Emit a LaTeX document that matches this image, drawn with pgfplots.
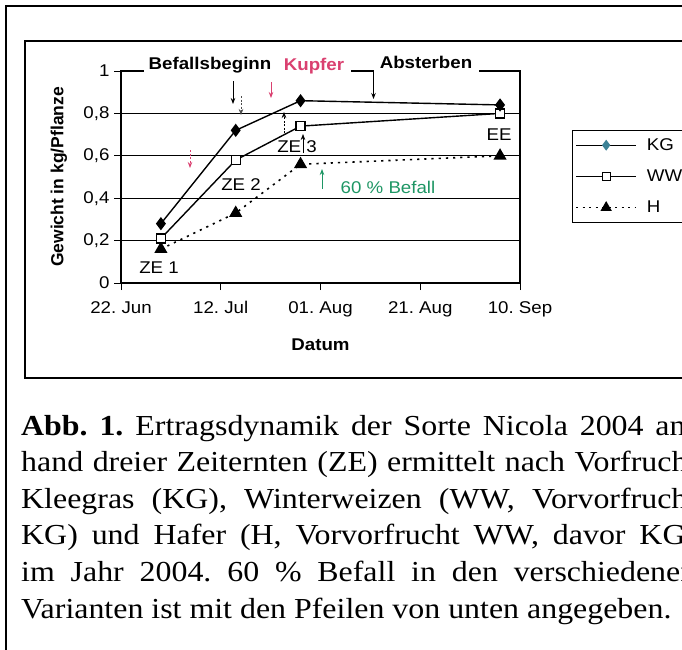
\documentclass[border=0pt]{standalone}
\usepackage{pgfplots}
\pgfplotsset{compat=1.18}
\usetikzlibrary{arrows.meta}
\usepackage{fontspec}
\setmainfont{Liberation Sans}[FakeStretch=1.1]
\newfontfamily\ylfont{Liberation Sans}
\newfontfamily\capfont{Liberation Serif}[FakeStretch=1.10]
\definecolor{kupfer}{RGB}{218,64,112}
\definecolor{befall}{RGB}{30,150,100}
\definecolor{kgleg}{RGB}{60,130,150}
\newcommand\cf{\fontsize{17}{20}\selectfont}
\frenchspacing

% Gewicht in kg/Pflanze, x = Tage ab 22. Juni
\pgfplotstableread{
day  KG    WW    H
8    0.28  0.21  0.16
23   0.72  0.58  0.33
36   0.86  0.74  0.56
76   0.84  0.80  0.60
}\ertrag

\begin{document}
\begin{tikzpicture}[x=1pt,y=1pt]
\useasboundingbox (0,0) rectangle (682,-649);
\clip (0,0) rectangle (682,-649);

% Rahmen
\draw[line width=2pt] (6,-652) -- (6,-6) -- (690,-6);
\draw[line width=1.3pt] (690,-41) -- (25,-41) -- (25,-378) -- (690,-378);

\begin{axis}[
    at={(121pt,-283pt)}, anchor=south west,
    scale only axis, width=399pt, height=212pt,
    xmin=0, xmax=80, ymin=0, ymax=1,
    xtick={0,20,40,60,80},
    xticklabels={22. Jun, 12. Jul, 01. Aug, 21. Aug, 10. Sep},
    ytick={0,0.2,0.4,0.6,0.8,1},
    yticklabels={0,{0,2},{0,4},{0,6},{0,8},1},
    xtick pos=bottom, ytick pos=left, tick align=outside,
    major tick length=7pt,
    ymajorgrids, grid style={black, line width=1pt},
    axis line style={line width=1.2pt},
    tick style={black, line width=1pt},
    /pgf/number format/assume math mode=true,
    tick label style={font=\cf},
    yticklabel style={xshift=-1pt},
    xticklabel style={yshift=-8pt},
    xlabel={\textbf{Datum}},
    ylabel={\ylfont\bfseries Gewicht in kg/Pflanze},
    xlabel style={at={(axis description cs:0.5,-0.2925)}, anchor=center, font=\cf},
    ylabel style={at={(axis description cs:-0.1554,0.5)}, anchor=center,
        font=\fontsize{17.5}{20}\selectfont},
    legend style={at={(rel axis cs:1.13,0.7217)}, anchor=north west,
        draw=black, line width=1pt, font=\cf,
        inner xsep=3pt, inner ysep=6pt, row sep=14pt, column sep=8pt,
        nodes={inner sep=2pt}},
    legend cell align=left,
    legend image code/.code={
        \draw[mark repeat=2,mark phase=2] plot coordinates {(0pt,0pt) (30pt,0pt) (60pt,0pt)};},
]
\addlegendimage{black, line width=1.2pt, mark=diamond*, mark size=4.5pt,
    mark options={fill=kgleg, draw=kgleg}}
\addlegendimage{black, line width=1.2pt, mark=square*, mark size=4pt,
    mark options={fill=white, draw=black, line width=1pt}}
\addlegendimage{black, line width=1.6pt, dash pattern=on 2pt off 4.5pt,
    mark=triangle*, mark size=5pt, mark options={solid, fill=black}}
\legend{KG\hspace{60pt}, WW\hspace{60pt}, H\hspace{60pt}}

\addplot[forget plot, black, line width=1.6pt, dash pattern=on 2.2pt off 5pt,
    mark=triangle*, mark size=6pt, mark options={solid, fill=black}]
    table[x=day, y=H] \ertrag;
\addplot[forget plot, black, line width=1.4pt, mark=square*, mark size=4.5pt,
    mark options={fill=white, line width=1.2pt}]
    table[x=day, y=WW] \ertrag;
\addplot[forget plot, black, line width=1.4pt, mark=diamond*, mark size=5.5pt,
    mark options={fill=black}]
    table[x=day, y=KG] \ertrag;
\end{axis}

% Beschriftungen an der oberen Linie
\fill[white] (144,-56) rectangle (351,-78);
\fill[white] (374,-52) rectangle (479,-78);
\node[font=\cf\bfseries] at (210,-65) {Befallsbeginn};
\node[font=\cf\bfseries, text=kupfer] at (314,-66) {Kupfer};
\node[font=\cf\bfseries] at (426,-62) {Absterben};

% Pfeile
\tikzset{pf/.style={line width=0.9pt, -{Stealth[length=6pt,width=4.5pt]}}}
\draw[pf] (373.5,-71) -- (373.5,-99);
\draw[pf] (233,-81) -- (233,-104);
\draw[pf, line width=0.6pt, dash pattern=on 2pt off 1.5pt, black!70] (241,-96) -- (241,-115);
\draw[pf, kupfer] (271,-82) -- (271,-98);
\draw[pf, kupfer, dash pattern=on 2pt off 1.5pt] (190,-150) -- (190,-168);
\draw[pf, line width=0.6pt, dash pattern=on 2pt off 1.5pt] (284,-133) -- (284,-112);
\draw[pf, line width=0.7pt] (303,-153) -- (303,-134);
\draw[pf, befall, line width=0.8pt] (322,-189) -- (322,-169);

% Zeiternten
\node[font=\cf] at (159,-268) {ZE 1};
\node[font=\cf] at (241,-185) {ZE 2};
\node[font=\cf] at (297,-147) {ZE 3};
\node[font=\cf] at (499,-135) {EE};
\node[font=\cf, text=befall] at (388,-187) {60 \% Befall};

% Bildunterschrift
\begin{scope}[every node/.style={anchor=base west, inner sep=0pt,
    font={\capfont\fontsize{29}{36.6}\selectfont}}]
\node at (21,-435) {\makebox[675pt][s]{\textbf{Abb. 1.} Ertragsdynamik der Sorte Nicola 2004 an-}};
\node at (21,-471.6) {\makebox[675pt][s]{hand dreier Zeiternten (ZE) ermittelt nach Vorfrucht}};
\node at (21,-508.2) {\makebox[675pt][s]{Kleegras (KG), Winterweizen (WW, Vorvorfrucht}};
\node at (21,-544.8) {\makebox[675pt][s]{KG) und Hafer (H, Vorvorfrucht WW, davor KG)}};
\node at (21,-581.4) {\makebox[675pt][s]{im Jahr 2004. 60 \% Befall in den verschiedenen}};
\node at (21,-618) {Varianten ist mit den Pfeilen von unten angegeben.};
\end{scope}
\end{tikzpicture}
\end{document}
